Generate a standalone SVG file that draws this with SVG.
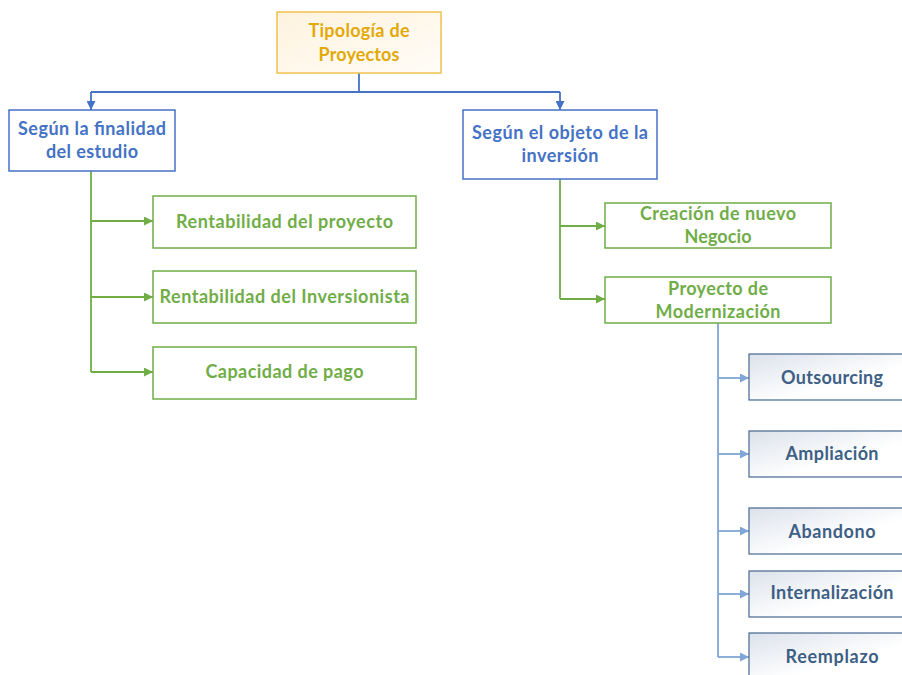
<svg xmlns="http://www.w3.org/2000/svg" width="902" height="675" viewBox="0 0 902 675">
  <style>
    text { font-family: Lato, "Open Sans", "Liberation Sans", sans-serif; font-weight: bold; font-size: 18px; text-anchor: middle; }
    .root rect { fill: url(#cream); stroke: #f2c14e; stroke-width: 1.5; }
    .root text { fill: #e3a909; }
    .cat rect { fill: #ffffff; stroke: #4472c4; stroke-width: 1.5; }
    .cat text { fill: #4472c4; }
    .leaf rect { fill: #ffffff; stroke: #70ad47; stroke-width: 1.5; }
    .leaf text { fill: #70ad47; }
    .mod rect { fill: url(#slate); stroke: #45678f; stroke-width: 1.2; }
    .mod text { fill: #3e5f85; }
    .c-blue { fill: none; stroke: #4472c4; stroke-width: 1.8; }
    .c-green { fill: none; stroke: #70ad47; stroke-width: 1.8; }
    .c-light { fill: none; stroke: #7fa6d6; stroke-width: 1.8; }
  </style>
  <defs>
    <linearGradient id="cream" x1="0" y1="0" x2="1" y2="1">
      <stop offset="0" stop-color="#fef3df"/>
      <stop offset="1" stop-color="#fffcf7"/>
    </linearGradient>
    <linearGradient id="slate" x1="0" y1="0" x2="1" y2="1">
      <stop offset="0" stop-color="#dce2eb"/>
      <stop offset="0.6" stop-color="#ffffff"/>
    </linearGradient>
    <marker id="arr-blue" viewBox="0 0 10 10" refX="10" refY="5" markerWidth="9" markerHeight="9" markerUnits="userSpaceOnUse" orient="auto">
      <path d="M0,0 L10,5 L0,10 z" fill="#4472c4"/>
    </marker>
    <marker id="arr-green" viewBox="0 0 10 10" refX="10" refY="5" markerWidth="9" markerHeight="9" markerUnits="userSpaceOnUse" orient="auto">
      <path d="M0,0 L10,5 L0,10 z" fill="#70ad47"/>
    </marker>
    <marker id="arr-light" viewBox="0 0 10 10" refX="10" refY="5" markerWidth="9" markerHeight="9" markerUnits="userSpaceOnUse" orient="auto">
      <path d="M0,0 L10,5 L0,10 z" fill="#7fa6d6"/>
    </marker>
  </defs>

  <g id="connectors">
    <!-- root to the two categories -->
    <path class="c-blue" d="M359,73 V92"/>
    <path class="c-blue" d="M91,92 H560"/>
    <path class="c-blue" d="M91,92 V110" marker-end="url(#arr-blue)"/>
    <path class="c-blue" d="M560,92 V110" marker-end="url(#arr-blue)"/>
    <!-- left category branches -->
    <path class="c-green" d="M91,171 V372"/>
    <path class="c-green" d="M91,221 H153" marker-end="url(#arr-green)"/>
    <path class="c-green" d="M91,297 H153" marker-end="url(#arr-green)"/>
    <path class="c-green" d="M91,372 H153" marker-end="url(#arr-green)"/>
    <!-- right category branches -->
    <path class="c-green" d="M560,179 V299"/>
    <path class="c-green" d="M560,226 H605" marker-end="url(#arr-green)"/>
    <path class="c-green" d="M560,299 H605" marker-end="url(#arr-green)"/>
    <!-- modernization types -->
    <path class="c-light" d="M718,323 V657"/>
    <path class="c-light" d="M718,378 H749" marker-end="url(#arr-light)"/>
    <path class="c-light" d="M718,454 H749" marker-end="url(#arr-light)"/>
    <path class="c-light" d="M718,531 H749" marker-end="url(#arr-light)"/>
    <path class="c-light" d="M718,594 H749" marker-end="url(#arr-light)"/>
    <path class="c-light" d="M718,657 H749" marker-end="url(#arr-light)"/>
  </g>

  <g id="tipologia" class="root">
    <rect x="277" y="12" width="164" height="61"/>
    <text x="359" y="37" textLength="101">Tipología de</text>
    <text x="359" y="61" textLength="81">Proyectos</text>
  </g>

  <g id="finalidad" class="cat">
    <rect x="9" y="110" width="166" height="61"/>
    <text x="92" y="135" textLength="148">Según la finalidad</text>
    <text x="92" y="158" textLength="92">del estudio</text>
  </g>

  <g id="objeto" class="cat">
    <rect x="463" y="110" width="194" height="69"/>
    <text x="560" y="139" textLength="176">Según el objeto de la</text>
    <text x="560" y="162" textLength="77">inversión</text>
  </g>

  <g id="rent-proyecto" class="leaf">
    <rect x="153" y="196" width="263" height="52"/>
    <text x="284.5" y="228" textLength="217">Rentabilidad del proyecto</text>
  </g>

  <g id="rent-inversionista" class="leaf">
    <rect x="153" y="271" width="263" height="52"/>
    <text x="284.5" y="303" textLength="250">Rentabilidad del Inversionista</text>
  </g>

  <g id="capacidad" class="leaf">
    <rect x="153" y="347" width="263" height="52"/>
    <text x="284.5" y="378" textLength="158">Capacidad de pago</text>
  </g>

  <g id="nuevo-negocio" class="leaf">
    <rect x="605" y="203" width="226" height="45"/>
    <text x="718" y="220" textLength="156">Creación de nuevo</text>
    <text x="718" y="243" textLength="67">Negocio</text>
  </g>

  <g id="modernizacion" class="leaf">
    <rect x="605" y="277" width="226" height="46"/>
    <text x="718" y="295" textLength="100">Proyecto de</text>
    <text x="718" y="318" textLength="125">Modernización</text>
  </g>

  <g id="outsourcing" class="mod">
    <rect x="749" y="354" width="166" height="46"/>
    <text x="832" y="384" textLength="102">Outsourcing</text>
  </g>

  <g id="ampliacion" class="mod">
    <rect x="749" y="431" width="166" height="46"/>
    <text x="832" y="460" textLength="93">Ampliación</text>
  </g>

  <g id="abandono" class="mod">
    <rect x="749" y="508" width="166" height="46"/>
    <text x="832" y="538" textLength="87">Abandono</text>
  </g>

  <g id="internalizacion" class="mod">
    <rect x="749" y="571" width="166" height="46"/>
    <text x="832" y="599" textLength="123">Internalización</text>
  </g>

  <g id="reemplazo" class="mod">
    <rect x="749" y="633" width="166" height="46"/>
    <text x="832" y="663" textLength="93">Reemplazo</text>
  </g>
</svg>
